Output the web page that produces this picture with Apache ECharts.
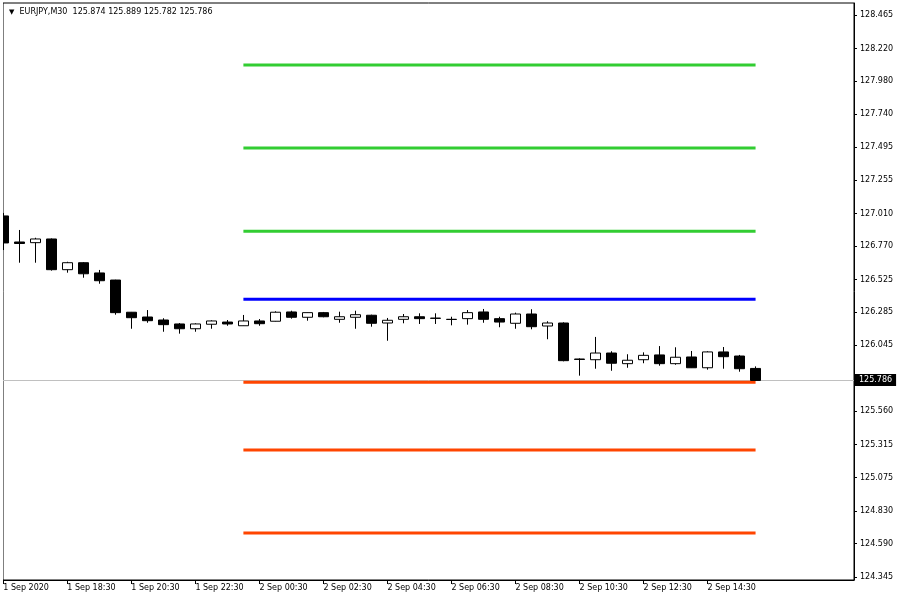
<!DOCTYPE html>
<html>
<head>
<meta charset="utf-8">
<script src="https://cdn.jsdelivr.net/npm/echarts@6/dist/echarts.min.js"></script>
<style>html,body{margin:0;padding:0;background:#fff}#c{width:900px;height:600px}</style>
</head>
<body>
<div id="c"></div>
<script>
// ---- data ----
const barTimes = [
  "1 Sep 16:30","1 Sep 17:00","1 Sep 17:30","1 Sep 18:00","1 Sep 18:30","1 Sep 19:00","1 Sep 19:30","1 Sep 20:00",
  "1 Sep 20:30","1 Sep 21:00","1 Sep 21:30","1 Sep 22:00","1 Sep 22:30","1 Sep 23:00","1 Sep 23:30","2 Sep 00:00",
  "2 Sep 00:30","2 Sep 01:00","2 Sep 01:30","2 Sep 02:00","2 Sep 02:30","2 Sep 03:00","2 Sep 03:30","2 Sep 04:00",
  "2 Sep 04:30","2 Sep 05:00","2 Sep 05:30","2 Sep 06:00","2 Sep 06:30","2 Sep 07:00","2 Sep 07:30","2 Sep 08:00",
  "2 Sep 08:30","2 Sep 09:00","2 Sep 09:30","2 Sep 10:00","2 Sep 10:30","2 Sep 11:00","2 Sep 11:30","2 Sep 12:00",
  "2 Sep 12:30","2 Sep 13:00","2 Sep 13:30","2 Sep 14:00","2 Sep 14:30","2 Sep 15:00","2 Sep 15:30","2 Sep 16:00"
];
const opens = [
  126.992,126.801,126.796,126.823,126.598,126.649,126.574,126.522,
  126.286,126.251,126.229,126.200,126.165,126.198,126.214,126.187,
  126.222,126.220,126.288,126.249,126.283,126.234,126.249,126.264,
  126.207,126.234,126.253,126.243,126.234,126.239,126.288,126.239,
  126.205,126.273,126.185,126.207,125.943,125.938,125.987,125.909,
  125.938,125.973,125.909,125.958,125.879,125.995,125.965,125.874
];
const closes = [
  126.794,126.790,126.823,126.598,126.649,126.568,126.517,126.283,
  126.246,126.224,126.195,126.165,126.200,126.222,126.200,126.222,
  126.202,126.286,126.249,126.283,126.253,126.253,126.268,126.205,
  126.227,126.253,126.239,126.241,126.233,126.283,126.234,126.214,
  126.273,126.180,126.207,125.931,125.940,125.987,125.912,125.934,
  125.970,125.909,125.956,125.879,125.995,125.960,125.872,125.786
];
const lows = [
  126.742,126.649,126.649,126.591,126.576,126.539,126.495,126.268,
  126.165,126.209,126.143,126.129,126.143,126.165,126.187,126.186,
  126.187,126.218,126.239,126.224,126.249,126.209,126.165,126.180,
  126.077,126.205,126.200,126.200,126.190,126.195,126.209,126.176,
  126.165,126.161,126.088,125.926,125.821,125.872,125.857,125.879,
  125.912,125.894,125.901,125.877,125.865,125.872,125.850,125.782
];
const highs = [
  127.014,126.889,126.832,126.827,126.656,126.654,126.596,126.524,
  126.288,126.302,126.242,126.207,126.205,126.227,126.229,126.266,
  126.236,126.293,126.297,126.284,126.288,126.290,126.297,126.268,
  126.244,126.273,126.278,126.278,126.253,126.302,126.310,126.253,
  126.283,126.308,126.220,126.212,125.948,126.105,126.000,125.978,
  125.992,126.038,126.029,126.002,126.000,126.031,125.973,125.889
];
const xTickPositions = [0,4,8,12,16,20,24,28,32,36,40,44];
const xTickLabels = ["1 Sep 2020","1 Sep 18:30","1 Sep 20:30","1 Sep 22:30","2 Sep 00:30","2 Sep 02:30",
  "2 Sep 04:30","2 Sep 06:30","2 Sep 08:30","2 Sep 10:30","2 Sep 12:30","2 Sep 14:30"];
const yTickValues = [124.345,124.590,124.830,125.075,125.315,125.560,126.045,126.285,126.525,
  126.770,127.010,127.255,127.495,127.740,127.980,128.220,128.465];
const levelValues = [128.098,127.490,126.879,126.381,125.772,125.276,124.668];
const levelColors = ['#32CD32','#32CD32','#32CD32','#0000FF','#FF4500','#FF4500','#FF4500'];
const levelStartIndex = 15;
const levelEndIndex = 47;
const currentPrice = 125.786;
const titleText = 'EURJPY,M30  125.874 125.889 125.782 125.786';

// ---- chart ----
const FONT = 'DejaVu Sans';
const candleData = barTimes.map((t, i) => [i, opens[i], closes[i], lows[i], highs[i]]);
const levelSeries = levelValues.map((v, k) => ({
  type: 'line',
  data: [[levelStartIndex, v], [levelEndIndex, v]],
  symbol: 'none',
  silent: true,
  z: 3,
  lineStyle: { color: levelColors[k], width: 3 }
}));

const chart = echarts.init(document.getElementById('c'), null, { renderer: 'canvas' });
chart.setOption({
  animation: false,
  backgroundColor: '#fff',
  title: {
    left: 4, top: 3,
    text: '{t|▼}  ' + titleText,
    textStyle: {
      fontFamily: FONT, fontSize: 8, fontWeight: 'normal', color: '#000',
      rich: { t: { fontFamily: FONT, fontSize: 7, color: '#000' } }
    }
  },
  graphic: [
    { type: 'rect', left: 0, top: 0, shape: { width: 3, height: 600 }, style: { fill: '#fff' }, z: 100, silent: true }
  ],
  grid: { left: 3, right: 46, top: 3, bottom: 20, show: true, borderColor: '#000', borderWidth: 1, backgroundColor: '#fff' },
  xAxis: {
    type: 'value',
    min: -0.02, max: 53.15,
    axisLine: { show: true, onZero: false, lineStyle: { color: '#000', width: 1 } },
    axisTick: { show: true, length: 4, customValues: xTickPositions, lineStyle: { color: '#000' } },
    axisLabel: {
      customValues: xTickPositions,
      formatter: v => xTickLabels[xTickPositions.indexOf(v)] || '',
      align: 'left', margin: 4, color: '#000', fontFamily: FONT, fontSize: 8
    },
    splitLine: { show: false }
  },
  yAxis: {
    type: 'value',
    position: 'right',
    min: 124.323, max: 128.553,
    axisLine: { show: true, onZero: false, lineStyle: { color: '#000', width: 1 } },
    axisTick: { show: true, length: 3, customValues: yTickValues, lineStyle: { color: '#000' } },
    axisLabel: {
      customValues: yTickValues,
      formatter: v => v.toFixed(3),
      margin: 6, color: '#000', fontFamily: FONT, fontSize: 8
    },
    splitLine: { show: false }
  },
  series: [
    {
      type: 'candlestick',
      data: candleData,
      encode: { x: 0, y: [1, 2, 3, 4] },
      barWidth: 10,
      clip: true,
      z: 4,
      itemStyle: {
        color: '#fff', color0: '#000',
        borderColor: '#000', borderColor0: '#000', borderColorDoji: '#000',
        borderWidth: 1
      },
      emphasis: { disabled: true },
      markLine: {
        silent: true,
        symbol: 'none',
        z: 1,
        lineStyle: { color: '#c0c0c0', width: 1, type: 'solid' },
        label: {
          show: true, position: 'end', distance: 1,
          formatter: currentPrice.toFixed(3),
          backgroundColor: '#000', color: '#fff',
          fontFamily: FONT, fontSize: 8, padding: [2, 4, 2, 4]
        },
        data: [{ yAxis: currentPrice }]
      }
    },
    ...levelSeries
  ]
});
</script>
</body>
</html>
